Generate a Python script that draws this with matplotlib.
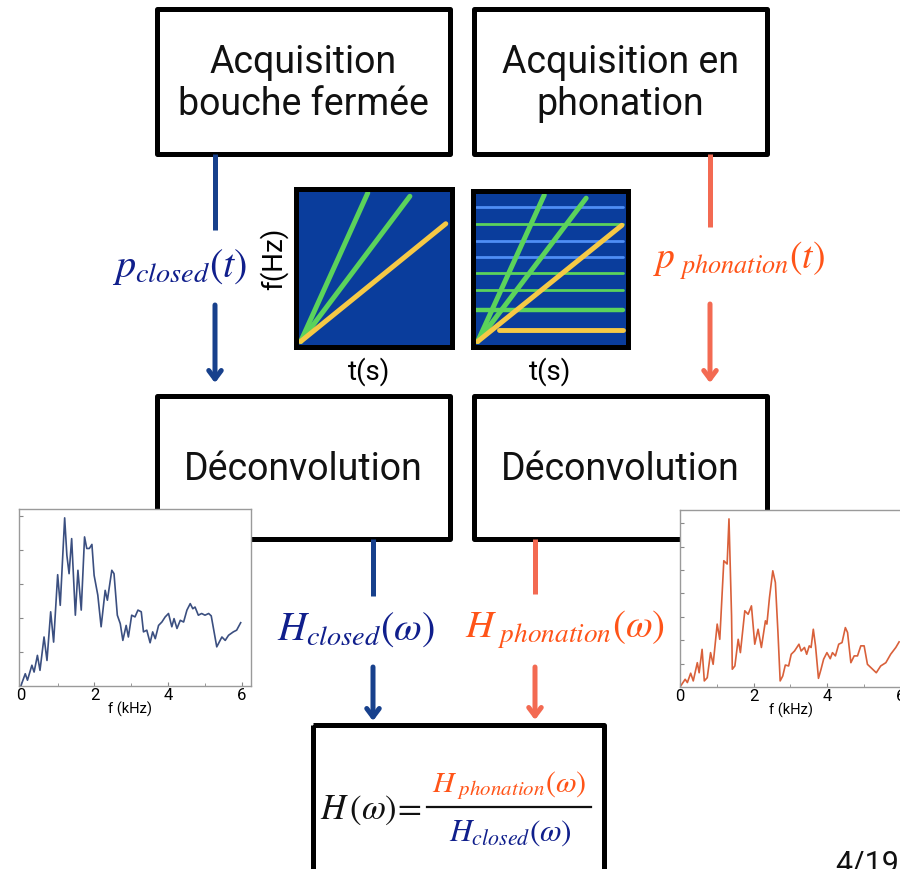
import matplotlib
matplotlib.use("Agg")
import matplotlib.pyplot as plt
from matplotlib.patches import Rectangle

plt.rcParams['mathtext.fontset'] = 'stix'
plt.rcParams['font.family'] = ['Roboto', 'DejaVu Sans']

# ---------------- data ----------------
box_titles = ["Acquisition\nbouche fermée", "Acquisition en\nphonation",
              "Déconvolution", "Déconvolution"]
label_p_closed = r'$p_{closed}\left(t\right)$'
label_p_phon = r'$p_{\ phonation}\left(t\right)$'
label_H_closed = r'$H_{closed}\left(\omega\right)$'
label_H_phon = r'$H_{\ phonation}\left(\omega\right)$'
label_H = r'$H\,\left(\omega\right)\!=$'

# spectrogram sketches (normalised time / frequency)
sweep_start = [0.03, 0.035]
sweep_green_ends = [(0.46, 0.975), (0.73, 0.954)]
sweep_yellow_end = (0.96, 0.78)
harm_levels = [0.895, 0.79, 0.68, 0.58, 0.475, 0.366, 0.234, 0.11]
harm_colors = ['blue', 'green', 'blue', 'blue', 'green', 'green', 'green', 'yellow']
harm_widths = [2.0, 2.0, 2.0, 2.0, 2.0, 2.0, 3.2, 3.5]

# spectrum of closed-mouth response (kHz, arbitrary amplitude)
f_closed = [0.00, 0.12, 0.18, 0.30, 0.36, 0.45, 0.52, 0.63, 0.71, 0.81, 0.89, 1.00,
            1.07, 1.19, 1.25, 1.31, 1.38, 1.48, 1.55, 1.64, 1.73, 1.79, 1.86, 1.93,
            1.99, 2.09, 2.18, 2.29, 2.35, 2.47, 2.53, 2.62, 2.70, 2.77, 2.86, 2.92,
            3.01, 3.10, 3.18, 3.27, 3.33, 3.42, 3.51, 3.58, 3.65, 3.74, 3.83, 3.92,
            4.01, 4.10, 4.16, 4.24, 4.33, 4.42, 4.51, 4.60, 4.67, 4.73, 4.82, 4.91,
            5.00, 5.10, 5.17, 5.32, 5.46, 5.55, 5.64, 5.77, 5.86, 5.97]
a_closed = [0.00, 0.36, 0.17, 0.61, 0.41, 0.90, 0.46, 1.44, 0.75, 2.18, 1.29, 3.27,
            2.37, 4.94, 3.84, 3.30, 4.33, 2.08, 3.40, 2.23, 4.38, 4.04, 4.04, 4.16,
            3.25, 2.67, 1.74, 2.81, 2.52, 3.40, 3.30, 2.08, 1.83, 1.34, 1.78, 1.44,
            2.08, 2.03, 2.23, 2.18, 1.59, 1.64, 1.27, 1.59, 1.39, 1.78, 1.88, 2.03,
            2.13, 1.74, 1.98, 1.69, 1.93, 1.88, 2.23, 2.42, 2.27, 2.32, 2.08, 2.13,
            2.08, 2.13, 2.06, 1.15, 1.44, 1.34, 1.49, 1.59, 1.64, 1.86]

# spectrum of phonation response
f_phon = [0.00, 0.14, 0.20, 0.29, 0.36, 0.47, 0.52, 0.60, 0.66, 0.74, 0.83, 0.90,
          1.01, 1.08, 1.19, 1.28, 1.33, 1.40, 1.42, 1.49, 1.58, 1.64, 1.76, 1.85,
          1.94, 2.03, 2.12, 2.21, 2.32, 2.36, 2.43, 2.52, 2.59, 2.66, 2.72, 2.79,
          2.86, 2.95, 3.02, 3.11, 3.23, 3.29, 3.38, 3.44, 3.51, 3.56, 3.62, 3.68,
          3.76, 3.83, 3.90, 3.99, 4.08, 4.14, 4.22, 4.31, 4.40, 4.49, 4.55, 4.64,
          4.73, 4.82, 4.91, 5.00, 5.09, 5.23, 5.33, 5.45, 5.59, 5.72, 5.86, 5.95]
a_phon = [0.00, 0.33, 0.19, 0.59, 0.26, 1.04, 0.61, 1.61, 0.26, 0.40, 1.47, 0.97,
          2.69, 2.04, 5.40, 5.26, 7.19, 3.04, 0.76, 0.90, 2.04, 1.47, 3.26, 3.11,
          3.47, 1.83, 2.47, 1.69, 2.83, 2.69, 3.83, 4.97, 4.47, 2.33, 0.26, 0.47,
          0.94, 0.90, 1.40, 1.54, 1.83, 1.54, 1.69, 1.40, 1.76, 1.69, 2.47, 1.76,
          0.37, 0.76, 1.19, 1.47, 1.21, 1.47, 1.33, 1.83, 1.90, 2.54, 2.33, 1.04,
          1.33, 1.33, 1.76, 1.76, 0.97, 0.76, 0.61, 0.90, 1.04, 1.40, 1.69, 1.93]

freq_ticks = [0, 2, 4, 6]

# ---------------- colours ----------------
NAVY = '#101f8c'
BLUE_ARROW = '#17408c'
ORANGE = '#ff5418'
ORANGE_ARROW = '#f36a52'
SPEC_BG = '#0a3d9c'
GREEN = '#5bd35b'
YELLOW = '#f6c945'
LBLUE = '#4f8ef5'
cmap = {'blue': LBLUE, 'green': GREEN, 'yellow': YELLOW}

W, H = 900, 870
fig = plt.figure(figsize=(9, 8.7), dpi=100)
ax = fig.add_axes([0, 0, 1, 1])
ax.set_xlim(0, W)
ax.set_ylim(H, 0)
ax.axis('off')


def rect_px(x0, y0, x1, y1):
    return [x0 / W, (H - y1) / H, (x1 - x0) / W, (y1 - y0) / H]


# ---------------- boxes ----------------
boxes = [(157, 10, 450, 155), (474, 10, 767, 155),
         (157, 397, 450, 540), (474, 397, 767, 540)]
for (x0, y0, x1, y1), t in zip(boxes, box_titles):
    ax.add_patch(Rectangle((x0, y0), x1 - x0, y1 - y0, fill=False,
                           ec='black', lw=3.6, joinstyle='round'))
    ax.text((x0 + x1) / 2, (y0 + y1) / 2 + 1, t, ha='center', va='center',
            fontsize=27, linespacing=1.2, color='#111111')

# formula box
ax.add_patch(Rectangle((313, 726), 291, 160, fill=False, ec='black', lw=3.6,
                       joinstyle='round', clip_on=True))


# ---------------- arrows ----------------
def arrow(x, y0, y1, y2, y3, color):
    ax.plot([x, x], [y0, y1], color=color, lw=3.6, solid_capstyle='butt')
    ax.annotate('', xy=(x, y3), xytext=(x, y2),
                arrowprops=dict(arrowstyle='->,head_length=0.6,head_width=0.45',
                                lw=3.6, color=color, shrinkA=0, shrinkB=0))


arrow(215, 155, 231, 306, 384, BLUE_ARROW)
arrow(710, 155, 228, 305, 384, ORANGE_ARROW)
arrow(373, 540, 597, 668, 722, BLUE_ARROW)
arrow(535, 540, 595, 668, 721, ORANGE_ARROW)

ax.text(180, 267, label_p_closed, color=NAVY, fontsize=29, ha='center', va='center')
ax.text(739, 261, label_p_phon, color=ORANGE, fontsize=27, ha='center', va='center')
ax.text(356, 630, label_H_closed, color=NAVY, fontsize=29, ha='center', va='center')
ax.text(565, 630, label_H_phon, color=ORANGE, fontsize=28, ha='center', va='center')

# formula
ax.text(371, 810, label_H, color='#111111', fontsize=25,
        ha='center', va='center')
ax.plot([427, 591], [808, 808], color='#111111', lw=1.6)
ax.text(509, 786, label_H_phon, color=ORANGE, fontsize=21.5, ha='center', va='center')
ax.text(510, 833, label_H_closed, color=NAVY, fontsize=22.5, ha='center', va='center')

# page number
ax.text(835, 850, '4/19', fontsize=22, ha='left', va='top', color='#111111')


# ---------------- spectrogram sketches ----------------
def spectro(rect, with_harm):
    s = fig.add_axes(rect)
    s.set_facecolor(SPEC_BG)
    s.set_xlim(0, 1)
    s.set_ylim(0, 1)
    s.set_xticks([])
    s.set_yticks([])
    for sp in s.spines.values():
        sp.set_linewidth(3.6)
        sp.set_color('black')
    x0, y0 = sweep_start
    if with_harm:
        for lev, c, lw in zip(harm_levels, harm_colors, harm_widths):
            xs = 0.17 if c == 'yellow' else 0.02
            s.plot([xs, 0.97], [lev, lev], color=cmap[c], lw=lw, solid_capstyle='round')
    for xe, ye in sweep_green_ends:
        s.plot([x0, xe], [y0, ye], color=GREEN, lw=3.6, solid_capstyle='round')
    s.plot([x0, sweep_yellow_end[0]], [y0, sweep_yellow_end[1]], color=YELLOW, lw=3.6,
           solid_capstyle='round')
    return s


spectro(rect_px(296, 190, 452, 348), False)
spectro(rect_px(473, 192, 628, 348), True)
ax.text(274, 259, 'f(Hz)', rotation=90, fontsize=20, ha='center', va='center')
ax.text(369, 372, 't(s)', fontsize=20, ha='center', va='center')
ax.text(550, 372, 't(s)', fontsize=20, ha='center', va='center')


# ---------------- spectra insets ----------------
def spectrum(rect, f, a, color, xlim, ylim, yt):
    s = fig.add_axes(rect)
    s.set_facecolor('white')
    s.plot(f, a, color=color, lw=1.2)
    s.set_xlim(*xlim)
    s.set_ylim(*ylim)
    s.set_xticks(freq_ticks)
    s.set_xticks([1, 3, 5], minor=True)
    s.set_xticklabels([str(v) for v in freq_ticks], fontsize=12)
    s.set_yticks(yt)
    s.set_yticklabels([])
    s.tick_params(direction='in', length=3, color='#888888', pad=1)
    s.tick_params(which='minor', direction='in', length=2, color='#888888')
    for sp in s.spines.values():
        sp.set_color('#9a9a9a')
        sp.set_linewidth(1.0)
    s.text(0.48, -0.125, 'f (kHz)', transform=s.transAxes, fontsize=10.5,
           ha='center', va='center')
    return s


spectrum(rect_px(19, 510, 251, 687), f_closed, a_closed, '#3b4f80',
         (-0.05, 6.25), (0, 5.2), [1, 2, 3, 4, 5])
spectrum(rect_px(680, 511, 912, 688), f_phon, a_phon, '#d9603a',
         (0, 6.3), (0, 7.57), [1, 2, 3, 4, 5, 6, 7])

fig.savefig('out.png', dpi=100)
